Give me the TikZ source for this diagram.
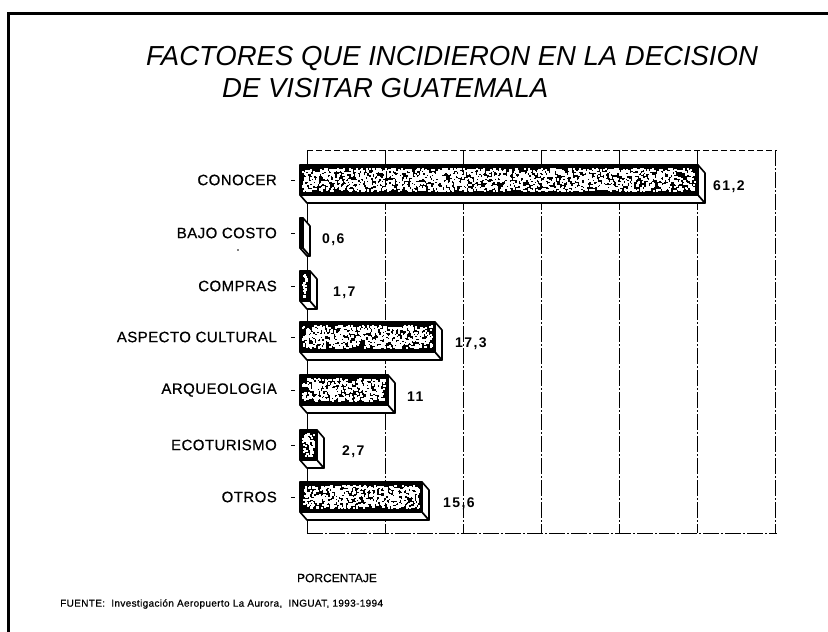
\documentclass[tikz,border=0pt]{standalone}
\usepackage{fontspec}
\setmainfont{Liberation Sans}
\newfontfamily\lblfont[LetterSpace=3,FakeBold=0.6]{Liberation Sans}
\newfontfamily\valfont[LetterSpace=10]{Liberation Sans}
\newfontfamily\srcfont[LetterSpace=3.5,FakeBold=0.5]{Liberation Sans}
\newfontfamily\axfont[FakeBold=0.5]{Liberation Sans}
\tikzset{
  barline/.style={line width=1.6pt, line join=round},
  gridline/.style={line width=1pt, dash pattern=on 16pt off 2pt on 2pt off 2pt},
  catlabel/.style={anchor=east, inner sep=0pt, font=\lblfont\fontsize{15}{15}\selectfont},
  vallabel/.style={anchor=west, inner sep=0pt, font=\valfont\bfseries\fontsize{14}{14}\selectfont},
  titletext/.style={anchor=base west, inner sep=0pt, font=\itshape\fontsize{27.5}{30}\selectfont},
}
\newcommand\mkrow[6]{% #1 cy, #2 bar right x, #3 label, #4 value, #5 value x, #6 name
  \fill[black] (300,#1-15) rectangle (#2,#1+15);
  \pgfmathtruncatemacro\nsp{max(0,(#2-306))*22/4}
  \ifnum\nsp>0
    \foreach \k in {1,...,\nsp}{%
      \pgfmathsetmacro\rx{302+rnd*(#2-306)}%
      \pgfmathsetmacro\ry{#1-12+rnd*22}%
      \fill[white] (\rx,\ry) rectangle ++(2.2,2.2);}
  \fi
  \draw[barline, fill=white] (300,#1+15) -- (#2,#1+15) -- (#2+7,#1+23) -- (307,#1+23) -- cycle;
  \draw[barline, fill=white] (#2,#1-15) -- (#2+7,#1-7) -- (#2+7,#1+23) -- (#2,#1+15) -- cycle;
  \draw[barline] (300,#1-15) rectangle (#2,#1+15);
  \draw[line width=0.8pt] (291,#1) -- (295,#1);
  \node[catlabel] (c#6) at (277,#1) {#3};
  \node[vallabel] (v#6) at (#5,#1+7) {#4};
}
\begin{document}
\begin{tikzpicture}[x=1pt,y=-1pt]
\pgfmathsetseed{7}
\useasboundingbox (0,0) rectangle (828,632);
\fill[white] (0,0) rectangle (828,632);
% frame
\draw[line width=3pt] (8,632) -- (8,13) -- (828,13);
% title
\node[titletext] (t1) at (146,65) {FACTORES QUE INCIDIERON EN LA DECISION};
\node[titletext] (t2) at (222,97) {DE VISITAR GUATEMALA};
% plot frame and grid
\draw[line width=0.8pt, dash pattern=on 6pt off 3pt] (307,150) -- (777,150);
\foreach \gx in {385,463,541,619,697,775}
  \draw[gridline] (\gx,150) -- (\gx,533);
\draw[line width=1pt] (307,150) -- (307,533);
\draw[gridline] (307,533) -- (777,533);
% bars
\mkrow{180}{698}{CONOCER}{61,2}{713}{1}
\mkrow{233}{303}{BAJO COSTO}{0,6}{322}{2}
\mkrow{286}{310}{COMPRAS}{1,7}{333}{3}
\mkrow{337}{435}{ASPECTO CULTURAL}{17,3}{455}{4}
\mkrow{390}{388}{ARQUEOLOGIA}{11}{407}{5}
\mkrow{445}{317}{ECOTURISMO}{2,7}{342}{6}
\mkrow{497}{422}{OTROS}{15,6}{443}{7}
\fill (238,250) circle (0.9);
% axis title and source
\node[inner sep=0pt, font=\axfont\fontsize{12}{12}\selectfont] (xt) at (337,578) {PORCENTAJE};
\node[anchor=west, inner sep=0pt, font=\srcfont\fontsize{10}{10}\selectfont] (src) at (60,604) {FUENTE:\ \ Investigación Aeropuerto La Aurora,\ \ INGUAT, 1993-1994};
\end{tikzpicture}
\end{document}
